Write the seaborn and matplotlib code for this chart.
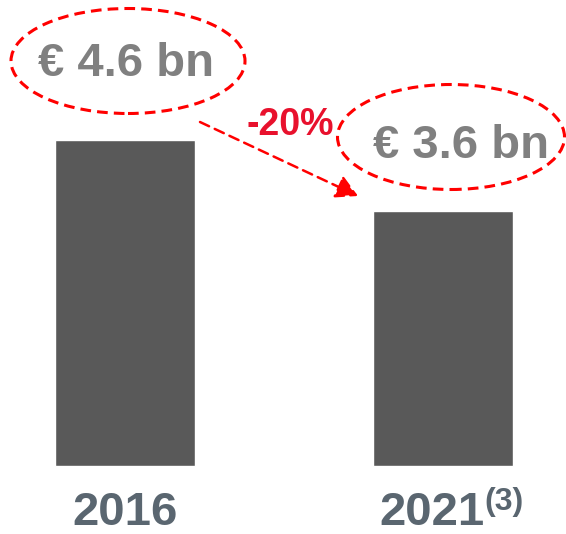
import matplotlib
matplotlib.use("Agg")
import matplotlib.pyplot as plt
from matplotlib.patches import Ellipse
import seaborn as sns
import pandas as pd

years = ["2016", "2021"]
values = [4.6, 3.6]
value_labels = ["€ 4.6 bn", "€ 3.6 bn"]
footnote = "(3)"
change_label = "-20%"

sns.set_theme(style="white")
plt.rcParams['font.family'] = ['Liberation Sans', 'DejaVu Sans']

df = pd.DataFrame({"year": years, "value": values})

fig = plt.figure(figsize=(5.66, 5.34), dpi=100)
ax = fig.add_axes([0, 0, 1, 1])
sns.barplot(data=df, x="year", y="value", ax=ax, color="#595959",
            saturation=1, width=0.44)

# pixel mapping: x unit = 318 px, y unit = 70.9 px
ax.set_xlim(-125 / 318, (566 - 125) / 318)
ax.set_ylim(-68 / 70.9, (534 - 68) / 70.9)
ax.axis("off")

def px(x, y):
    # convert pixel coords (from top-left) to data coords
    return ((x - 125) / 318, (534 - y - 68) / 70.9)

# year labels
lab_col = "#5a6670"
cx, cy = px(125, 513)
ax.text(cx, cy, years[0], ha="center", va="center", fontsize=34,
        fontweight="bold", color=lab_col)
cx, cy = px(485, 513)
ax.text(cx, cy, years[1], ha="right", va="center", fontsize=34,
        fontweight="bold", color=lab_col)
cx, cy = px(484, 502)
ax.text(cx, cy, footnote, ha="left", va="center", fontsize=23,
        fontweight="bold", color=lab_col)

# value labels with dashed ellipses
ell_centers = [(128, 61), (451, 137)]
ell_sizes = [(234, 105), (227, 105)]
text_centers = [(126, 64), (461, 146)]
for lab, ec, es, tc in zip(value_labels, ell_centers, ell_sizes, text_centers):
    x, y = px(*tc)
    ax.text(x, y, lab, ha="center", va="center", fontsize=34,
            fontweight="bold", color="#808080")
    e = Ellipse(px(*ec), es[0] / 318, es[1] / 70.9, fill=False,
                edgecolor="#ff0000", linestyle=(0, (3.5, 2)), linewidth=2.2,
                clip_on=False)
    ax.add_patch(e)

# arrow
ax.annotate("", xy=px(358, 196), xytext=px(200, 122),
            arrowprops=dict(arrowstyle="-|>,head_length=1.1,head_width=0.6",
                            color="#ff0000", linestyle=(0, (4, 2.5)),
                            linewidth=1.8, shrinkA=0, shrinkB=0))
x, y = px(290, 125)
ax.text(x, y, change_label, ha="center", va="center", fontsize=27,
        fontweight="bold", color="#e8112d")

fig.savefig("out.png", dpi=100)
